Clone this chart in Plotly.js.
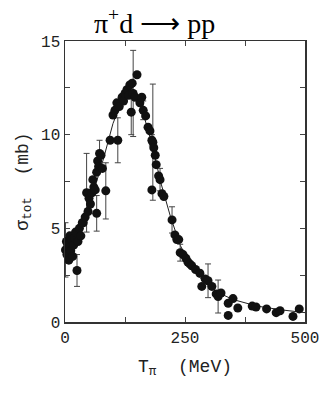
<!DOCTYPE html>
<html>
<head>
<meta charset="utf-8">
<script src="https://cdn.plot.ly/plotly-3.0.1.min.js"></script>
<style>
  html, body { margin: 0; padding: 0; background: #fff; }
  #chart { width: 322px; height: 402px; }
</style>
</head>
<body>
<div id="chart"></div>
<script>
// measured points: pion kinetic energy (MeV), total cross section (mb), error (mb)
const tPi = [
  1, 3, 4, 6, 8, 10, 12, 14, 16, 18, 20, 22, 25, 27, 30, 33, 36,
  38, 42, 45, 48, 50, 53, 56, 58, 60, 63, 66, 66, 68, 70, 72, 75, 78, 85,
  94, 100, 104, 108, 110, 113, 119, 122, 125, 129, 133, 135, 138, 140, 142, 146, 150,
  156, 160, 163, 168, 173, 177, 181, 183, 185, 188, 190, 181, 195, 198, 202, 206,
  223, 229, 233, 237, 240, 246, 252, 256, 260, 264, 272, 281, 285, 292, 298, 306,
  315, 319, 325, 340, 340, 350, 360, 390, 398, 420, 440, 448, 475, 488
];
const sigmaTot = [
  3.85, 4.3, 3.6, 4.1, 3.3, 4.6, 3.8, 4.4, 3.5, 4.1, 4.5, 4.8, 2.75, 4.3, 5.0, 4.6, 5.3,
  5.3, 5.6, 6.9, 5.9, 6.6, 6.3, 6.9, 7.6, 7.2, 7.05, 8.0, 5.8, 8.6, 8.3, 9.0, 8.9, 8.2, 7.0,
  9.7, 11.05, 11.3, 11.7, 9.7, 11.5, 12.0, 11.8, 12.2, 12.4, 12.1, 12.65, 11.2, 12.75, 12.2, 12.0, 13.2,
  11.7, 12.0, 11.3, 11.0, 10.4, 10.2, 9.7, 9.6, 9.3, 8.9, 8.4, 7.05, 7.8, 7.6, 6.85, 6.7,
  5.45, 4.65, 4.4, 4.4, 3.7, 3.6, 3.4, 3.2, 3.1, 3.0, 2.8, 2.6, 1.9, 2.3, 2.2, 1.9,
  1.5, 1.36, 1.55, 1.0, 0.35, 1.25, 0.75, 0.85, 0.8, 0.7, 0.5, 0.6, 0.3, 0.7
];
const sigmaErr = [
  1.45, 0, 0, 0, 0, 0, 0, 0, 0, 0, 0, 0, 0.85, 0, 0, 0, 0,
  0, 0, 2.1, 0, 0, 0, 0, 0, 0, 0, 0, 0.95, 0, 0, 0.7, 0, 0, 1.5,
  0, 0, 0, 0, 1.2, 0, 0, 0, 0, 0, 0, 0, 1.2, 0, 2.3, 0, 0,
  0, 0, 0.5, 0, 0, 0, 0.3, 3.1, 0, 0, 0, 0, 0, 0.6, 0, 0,
  0.7, 0, 0, 0, 0.45, 0, 0, 0, 0, 0, 0, 0, 0, 0, 0.9, 0,
  0, 0.88, 0, 0, 0, 0, 0, 0, 0, 0, 0, 0, 0, 0
];

// smooth curve drawn through the data
const curveT = [0, 20, 40, 60, 80, 100, 120, 140, 160, 180, 200, 220, 240, 260, 280, 300, 325, 350, 400, 450, 500];
const curveSigma = [3.6, 4.4, 5.5, 7.0, 8.7, 10.6, 11.9, 12.3, 11.4, 9.6, 7.4, 5.6, 4.1, 3.1, 2.4, 1.9, 1.5, 1.2, 0.85, 0.65, 0.5];

const xTickVals = [0, 125, 250, 375, 500];
const xTickText = ["0", "", "250", "", "500"];
const yTickVals = [0, 2.5, 5, 7.5, 10, 12.5, 15];
const yTickText = ["0", "", "5", "", "10", "", "15"];

const curve = {
  x: curveT,
  y: curveSigma,
  mode: "lines",
  line: { color: "#222", width: 1 },
  hoverinfo: "skip",
  showlegend: false
};

const points = {
  x: tPi,
  y: sigmaTot,
  mode: "markers",
  marker: { color: "#111", size: 9, symbol: "circle" },
  error_y: { type: "data", array: sigmaErr, visible: true, color: "#444", thickness: 1, width: 3 },
  cliponaxis: false,
  showlegend: false
};

const axisFont = { family: "Liberation Mono, monospace", size: 16, color: "#222" };
const labelFont = { family: "Liberation Mono, monospace", size: 18, color: "#222" };

const layout = {
  width: 322,
  height: 402,
  margin: { l: 65, r: 17, t: 41, b: 80 },
  paper_bgcolor: "#fff",
  plot_bgcolor: "#fff",
  showlegend: false,
  title: {
    text: "π<sup>+</sup>d ⟶ pp",
    font: { family: "Liberation Serif, serif", size: 28, color: "#000" },
    xref: "container",
    x: 0.48,
    xanchor: "center",
    yref: "container",
    y: 0.943,
    yanchor: "middle"
  },
  xaxis: {
    range: [0, 500],
    tickvals: xTickVals,
    ticktext: xTickText,
    ticks: "inside",
    ticklen: 5,
    tickcolor: "#444",
    showgrid: false,
    zeroline: false,
    showline: true,
    linecolor: "#333",
    linewidth: 1.5,
    mirror: "ticks",
    tickfont: axisFont,
    title: {
      text: "T<sub>π</sub>\u00a0\u00a0(MeV)",
      font: labelFont,
      standoff: 12
    }
  },
  yaxis: {
    range: [0, 15],
    tickvals: yTickVals,
    ticktext: yTickText,
    ticks: "inside",
    ticklen: 5,
    tickcolor: "#444",
    showgrid: false,
    zeroline: false,
    showline: true,
    linecolor: "#333",
    linewidth: 1.5,
    mirror: "ticks",
    tickfont: axisFont,
    title: {
      text: "σ<sub>tot</sub>\u00a0\u00a0(mb)",
      font: labelFont,
      standoff: 8
    }
  }
};

Plotly.newPlot("chart", [curve, points], layout, { staticPlot: true, displayModeBar: false });
</script>
</body>
</html>
